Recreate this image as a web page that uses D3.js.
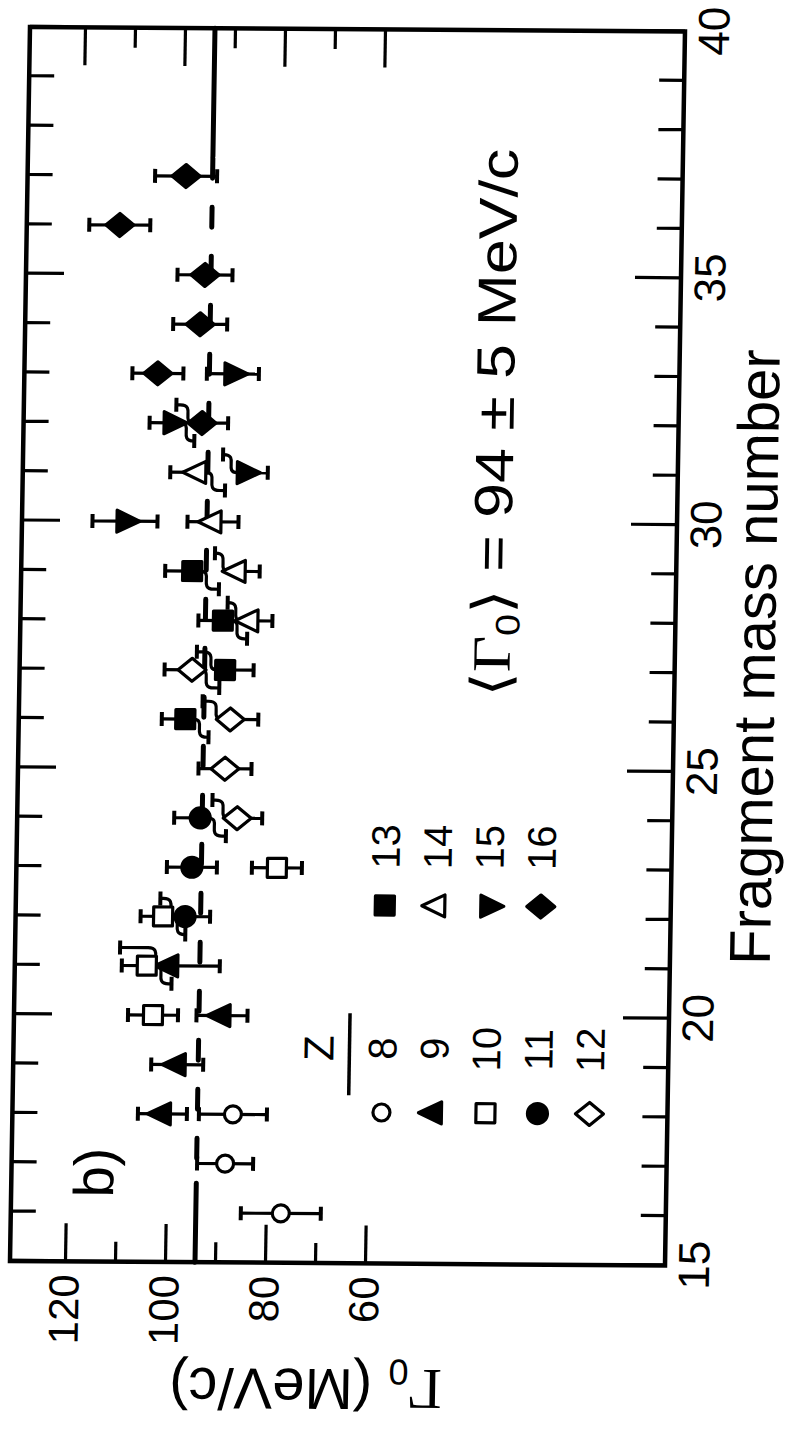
<!DOCTYPE html>
<html>
<head>
<meta charset="utf-8">
<script src="https://cdn.jsdelivr.net/npm/d3@7"></script>
<style>
  body { margin: 0; background: #fff; }
</style>
</head>
<body>
<div id="viz"></div>
<script>
const width = 793, height = 1433;

// fragment charge, mass number, width and its error (one entry per point)
const pointZ = [8, 8, 8, 9, 9, 9, 9, 10, 10, 10, 10, 11, 11, 11, 12, 12, 12, 12,
  13, 13, 13, 13, 14, 14, 14, 14, 15, 15, 15, 15, 16, 16, 16, 16, 16, 16];
const pointA = [16, 17, 18, 18, 19, 20, 21, 20, 21, 22, 23, 22, 23, 24, 24, 25, 26, 27,
  26, 27, 28, 29, 28, 29, 30, 31, 30, 31, 32, 33, 32, 33, 34, 35, 36, 37];
const pointGamma = [77, 88.3, 86.9, 101, 98.2, 89.4, 100, 103.2, 104.6, 101.5, 78.9, 97.1, 95.9, 94.4,
  87, 89.6, 88.7, 96.5, 97.7, 89.9, 90.5, 96.8, 85.1, 87.8, 92.8, 96, 110.4, 86.5, 101.3, 89.3,
  95.3, 104.3, 96, 95.2, 112.4, 99.3];
const pointErr = [8, 5.6, 6.8, 4.9, 5.2, 5.1, 10, 5, 5, 4.5, 5, 5, 5, 5.2, 5, 5.3, 5.6, 5.5,
  4.7, 5.7, 4.9, 5.4, 4.5, 4.5, 5.1, 5.5, 6.5, 4.5, 4.5, 5.2, 5.2, 5.1, 5.4, 5.5, 6.1, 6.2];

const legendZ = [8, 9, 10, 11, 12, 13, 14, 15, 16];
const meanGamma = 94;

const massMinor = d3.range(16, 40).filter(d => d % 5 !== 0);
const massMajor = [15, 20, 25, 30, 35, 40];
const gammaMinor = [70, 90, 110];
const gammaMajor = [60, 80, 100, 120];

// marker per Z
const zShape = {
  8: "circle", 9: "triUp", 10: "square", 11: "circle", 12: "diamond",
  13: "square", 14: "triUp", 15: "triDown", 16: "diamond"
};
const zFilled = { 8: false, 9: true, 10: false, 11: true, 12: false, 13: true, 14: false, 15: true, 16: true };

const svg = d3.select("#viz").append("svg")
  .attr("width", width)
  .attr("height", height);
svg.append("rect").attr("width", width).attr("height", height).attr("fill", "#fff");

const plotLen = 1234, plotDepth = 655;
const x = d3.scaleLinear().domain([15, 40]).range([0, plotLen]);
const y = d3.scaleLinear().domain([0, 131]).range([plotDepth, 0]);

// the figure is printed sideways (and a bit skewed on the page)
const g = svg.append("g")
  .attr("transform", "matrix(0.0162,-1,1,0.007,10,1260.9)");

const font = "'Liberation Sans', Arial, sans-serif";

function symbolPath(shape, filled) {
  if (shape === "circle") {
    const r = filled ? 10 : 8.5;
    return `M${-r},0A${r},${r} 0 1,0 ${r},0A${r},${r} 0 1,0 ${-r},0Z`;
  }
  if (shape === "square") {
    const s = 9.5;
    return `M${-s},${-s}H${s}V${s}H${-s}Z`;
  }
  if (shape === "triUp") return "M0,-15L11,8L-11,8Z";
  if (shape === "triDown") return "M0,15L11,-8L-11,-8Z";
  return "M0,-14L11.5,0L0,14L-11.5,0Z";
}

// ticks
function tickAxis(axis, tx, ty, values, size, labels) {
  const a = g.append("g")
    .attr("transform", `translate(${tx},${ty})`)
    .call(axis.tickValues(values).tickSizeInner(-size).tickSizeOuter(0).tickPadding(13)
      .tickFormat(labels ? d3.format("d") : ""));
  a.select(".domain").remove();
  a.selectAll("line").attr("stroke", "#000").attr("stroke-width", 3.2);
  a.selectAll("text").attr("font-size", 42).attr("font-family", font).attr("fill", "#000");
  return a;
}
tickAxis(d3.axisBottom(x), 0, plotDepth, massMinor, 25, false);
tickAxis(d3.axisBottom(x), 0, plotDepth, massMajor, 46, true)
  .selectAll("text").attr("font-size", 44);
tickAxis(d3.axisTop(x), 0, 0, massMinor, 25, false);
tickAxis(d3.axisTop(x), 0, 0, massMajor, 38, false);
tickAxis(d3.axisLeft(y), 0, 0, gammaMinor, 20, false);
tickAxis(d3.axisLeft(y), 0, 0, gammaMajor, 38, true);
tickAxis(d3.axisRight(y), plotLen, 0, gammaMinor, 20, false);
tickAxis(d3.axisRight(y), plotLen, 0, gammaMajor, 38, false);

// frame
g.append("rect")
  .attr("width", plotLen).attr("height", plotDepth)
  .attr("fill", "none").attr("stroke", "#000").attr("stroke-width", 4.5);

// mean line: solid at both ends, dashed in between
const meanY = y(meanGamma);
[[15, 16.6], [37.4, 40]].forEach(([a, b]) => {
  g.append("line").attr("x1", x(a)).attr("x2", x(b)).attr("y1", meanY).attr("y2", meanY)
    .attr("stroke", "#000").attr("stroke-width", 5).attr("stroke-linecap", "round");
});
g.append("line").attr("x1", x(16.6) + 25).attr("x2", x(37.4)).attr("y1", meanY).attr("y2", meanY)
  .attr("stroke", "#000").attr("stroke-width", 5).attr("stroke-linecap", "round")
  .attr("stroke-dasharray", "20 29");

// points
const points = pointA.map((a, i) => ({ a, z: pointZ[i], v: pointGamma[i], e: pointErr[i] }));

// where two bars of the same mass overlap, the inner half of each is drawn aside
points.forEach(d => {
  const other = points.find(o => o !== d && o.a === d.a &&
    Math.max(d.v, o.v) - (d.v > o.v ? d.e : o.e) < Math.min(d.v, o.v) + (d.v > o.v ? o.e : d.e));
  d.split = other ? (d.v > other.v ? "lower" : "upper") : null;
});

const bars = g.append("g").attr("stroke", "#000").attr("stroke-width", 3.2).attr("fill", "none");
const shift = 18;
function cap(cx, cy) {
  bars.append("line").attr("x1", cx - 7).attr("x2", cx + 7).attr("y1", cy).attr("y2", cy)
    .attr("stroke-width", 4);
}
points.forEach(d => {
  const px = x(d.a), pv = y(d.v);
  ["upper", "lower"].forEach(half => {
    const end = y(half === "upper" ? d.v + d.e : d.v - d.e);
    if (d.split === half) {
      const s = half === "lower" ? 1 : -1;
      const dx = half === "lower" ? -shift : shift;
      bars.append("path")
        .attr("d", `M${px},${pv + s * 8}C${px},${pv + s * 22} ${px + dx},${pv + s * 6} ${px + dx},${pv + s * 22}L${px + dx},${end}`);
      cap(px + dx, end);
    } else {
      bars.append("line").attr("x1", px).attr("x2", px).attr("y1", pv).attr("y2", end);
      cap(px, end);
    }
  });
});

g.append("g").selectAll("path")
  .data(points)
  .join("path")
  .attr("transform", d => `translate(${x(d.a)},${y(d.v)})`)
  .attr("d", d => symbolPath(zShape[d.z], zFilled[d.z]))
  .attr("fill", d => zFilled[d.z] ? "#000" : "#fff")
  .attr("stroke", "#000")
  .attr("stroke-width", 3.2)
  .attr("stroke-linejoin", "round");

// legend
const legendRowY = [369, 421, 473, 525, 577];
const legendCols = [{ sym: 151, lab: 215, zs: legendZ.slice(0, 5) }, { sym: 358, lab: 417, zs: legendZ.slice(5) }];
legendCols.forEach(col => {
  col.zs.forEach((z, i) => {
    g.append("path")
      .attr("transform", `translate(${col.sym},${legendRowY[i]})`)
      .attr("d", symbolPath(zShape[z], zFilled[z]))
      .attr("fill", zFilled[z] ? "#000" : "#fff")
      .attr("stroke", "#000").attr("stroke-width", 3.2).attr("stroke-linejoin", "round");
    g.append("text")
      .attr("x", col.lab).attr("y", legendRowY[i])
      .attr("dy", "0.35em")
      .attr("text-anchor", "middle")
      .attr("font-family", font).attr("font-size", 40)
      .text(z);
  });
});
g.append("text")
  .attr("x", 215).attr("y", 320)
  .attr("text-anchor", "middle")
  .attr("font-family", font).attr("font-size", 42)
  .text("Z");
g.append("line")
  .attr("x1", 168).attr("x2", 250).attr("y1", 336).attr("y2", 336)
  .attr("stroke", "#000").attr("stroke-width", 3.5);

// panel label
g.append("text")
  .attr("x", 64).attr("y", 102)
  .attr("font-family", font).attr("font-size", 56)
  .text("b)");

// mean annotation
const meanText = g.append("text")
  .attr("x", x(26.5)).attr("y", 490)
  .attr("font-family", font).attr("font-size", 54)
  .attr("textLength", x(37.6) - x(26.5))
  .attr("lengthAdjust", "spacingAndGlyphs");
meanText.append("tspan").attr("font-family", "'DejaVu Sans', sans-serif").text("\u27E8");
meanText.append("tspan").attr("font-family", "'Liberation Serif', serif").text("\u0393");
meanText.append("tspan").attr("font-size", 34).attr("dy", 9).text("0");
meanText.append("tspan").attr("dy", -9).attr("font-family", "'DejaVu Sans', sans-serif").text("\u27E9");
meanText.append("tspan").text(" = 94 \u00B1 5 MeV/c");

// axis titles
g.append("text")
  .attr("x", 609).attr("y", 755)
  .attr("text-anchor", "middle")
  .attr("font-family", font).attr("font-size", 58)
  .text("Fragment mass number");

const yTitle = g.append("text")
  .attr("transform", `translate(-106,${y(71.5)}) rotate(-90)`)
  .attr("text-anchor", "middle")
  .attr("font-family", font).attr("font-size", 58);
yTitle.append("tspan").attr("font-family", "'Liberation Serif', serif").text("\u0393");
yTitle.append("tspan").attr("font-size", 36).attr("dy", 10).text("0");
yTitle.append("tspan").attr("dy", -10).text(" (MeV/c)");
</script>
</body>
</html>
